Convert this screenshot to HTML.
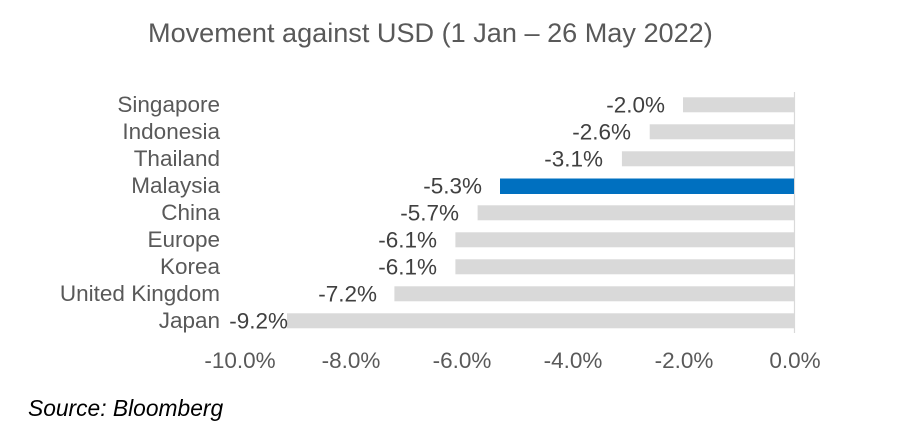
<!DOCTYPE html>
<html>
<head>
<meta charset="utf-8">
<style>
  html, body { margin:0; padding:0; background:#ffffff; }
  svg { display:block; }
  text { font-family: "Liberation Sans", Arial, sans-serif; }
</style>
</head>
<body>
<svg width="900" height="443" viewBox="0 0 900 443" xmlns="http://www.w3.org/2000/svg">
  <rect width="900" height="443" fill="#ffffff"/>
  <!-- Title -->
  <text x="148" y="42" font-size="27.1" fill="#595959">Movement against USD (1 Jan – 26 May 2022)</text>

  <!-- axis line -->
  <line x1="794.5" y1="92" x2="794.5" y2="333" stroke="#d9d9d9" stroke-width="1.2"/>

  <!-- Bars -->
  <rect x="683" y="97.3" width="111" height="15" fill="#d9d9d9"/>
  <rect x="649.7" y="124.3" width="144.3" height="15" fill="#d9d9d9"/>
  <rect x="621.9" y="151.3" width="172.1" height="15" fill="#d9d9d9"/>
  <rect x="500" y="178.5" width="294" height="15.5" fill="#0070c0"/>
  <rect x="477.6" y="205.3" width="316.4" height="15" fill="#d9d9d9"/>
  <rect x="455.4" y="232.3" width="338.6" height="15" fill="#d9d9d9"/>
  <rect x="455.4" y="259.3" width="338.6" height="15" fill="#d9d9d9"/>
  <rect x="394.4" y="286.3" width="399.6" height="15" fill="#d9d9d9"/>
  <rect x="287" y="313.3" width="507" height="15" fill="#d9d9d9"/>

  <!-- Category labels -->
  <g font-size="22.5" fill="#595959" text-anchor="end">
    <text x="220" y="112">Singapore</text>
    <text x="220" y="139">Indonesia</text>
    <text x="220" y="166">Thailand</text>
    <text x="220" y="193">Malaysia</text>
    <text x="220" y="220">China</text>
    <text x="220" y="247">Europe</text>
    <text x="220" y="274">Korea</text>
    <text x="220" y="301">United Kingdom</text>
    <text x="220" y="328">Japan</text>
  </g>

  <!-- Data labels -->
  <g font-size="22.5" fill="#404040" text-anchor="end">
    <text x="665" y="112.5">-2.0%</text>
    <text x="631" y="139.5">-2.6%</text>
    <text x="603" y="166.5">-3.1%</text>
    <text x="482" y="193.5">-5.3%</text>
    <text x="459" y="220.5">-5.7%</text>
    <text x="437" y="247.5">-6.1%</text>
    <text x="437" y="274.5">-6.1%</text>
    <text x="377" y="301.5">-7.2%</text>
    <text x="288" y="328.5">-9.2%</text>
  </g>

  <!-- Tick labels -->
  <g font-size="22.5" fill="#595959" text-anchor="middle">
    <text x="240" y="368">-10.0%</text>
    <text x="351" y="368">-8.0%</text>
    <text x="462" y="368">-6.0%</text>
    <text x="573" y="368">-4.0%</text>
    <text x="684" y="368">-2.0%</text>
    <text x="795" y="368">0.0%</text>
  </g>

  <!-- Source -->
  <text x="28" y="416" font-size="22.8" font-style="italic" fill="#000000">Source: Bloomberg</text>
</svg>
</body>
</html>
